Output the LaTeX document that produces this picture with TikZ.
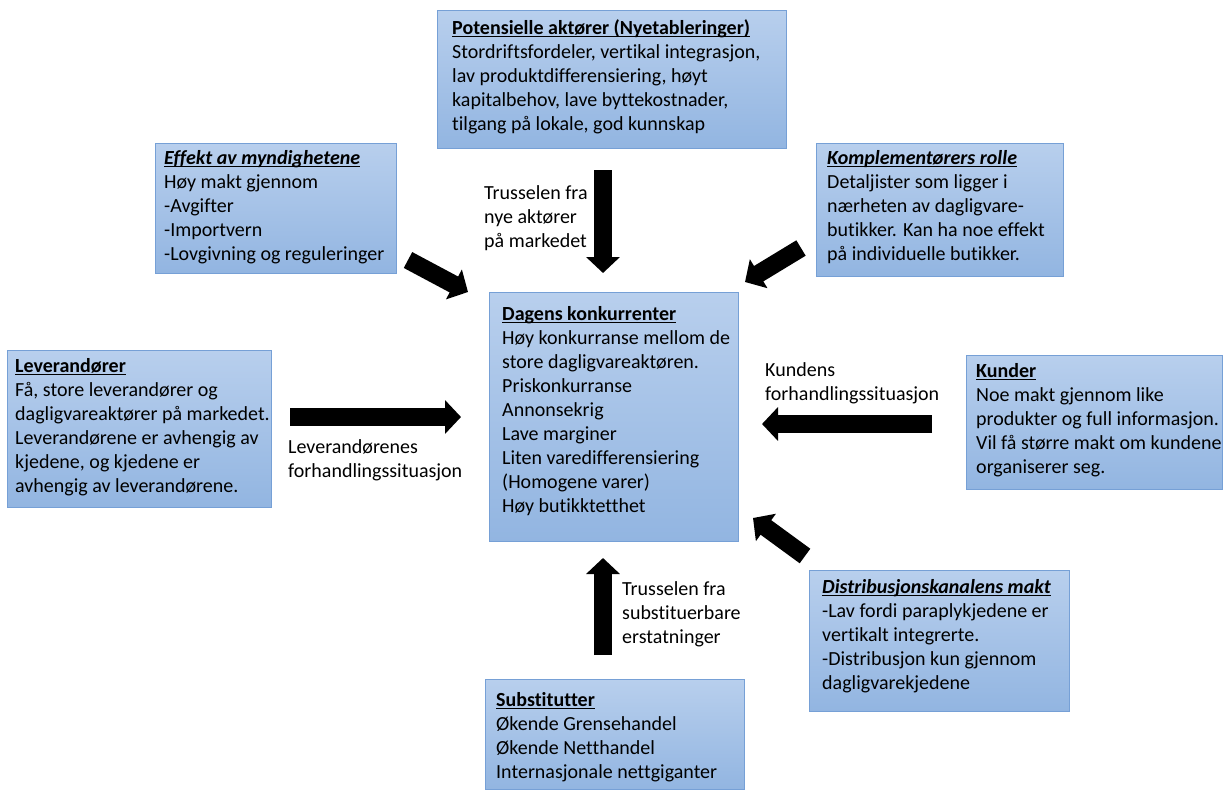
\documentclass[tikz,border=0pt]{standalone}
\usepackage{fontspec}
\setmainfont{Carlito}[RawFeature={-liga}]
\usetikzlibrary{arrows.meta}

\definecolor{boxtop}{RGB}{184,207,237}
\definecolor{boxbot}{RGB}{146,181,225}
\definecolor{boxline}{RGB}{118,160,214}

\tikzset{
  panel/.style={draw=boxline, line width=1pt, top color=boxtop, bottom color=boxbot,
    anchor=north west, inner sep=0pt, rectangle},
  txt/.style={anchor=north west, inner sep=0pt, align=left,
    font=\fontsize{20}{24}\selectfont},
  blockarrow/.style={draw=black, line width=18pt, line cap=butt,
    -{Triangle[width=33pt,length=16pt]}},
}
% underlined bold panel titles
\newsavebox{\ttlbox}
\newcommand{\ttl}[1]{\sbox{\ttlbox}{\bfseries #1}\usebox{\ttlbox}%
  \llap{\rule[-3pt]{\wd\ttlbox}{1.4pt}}}
\newcommand{\ttli}[1]{\ttl{\itshape #1}}

\begin{document}
\begin{tikzpicture}[x=1pt,y=-1pt]
\useasboundingbox[fill=white] (0,0) rectangle (1223,790);

% panels
\node[panel, minimum width=349pt, minimum height=138pt] (pot) at (437,10) {};
\node[panel, minimum width=241pt, minimum height=130pt] (myn) at (155,143) {};
\node[panel, minimum width=247pt, minimum height=133pt] (kom) at (816,143) {};
\node[panel, minimum width=249pt, minimum height=249pt] (dag) at (489,292) {};
\node[panel, minimum width=264pt, minimum height=157pt] (lev) at (7,350) {};
\node[panel, minimum width=256pt, minimum height=134pt] (kun) at (966,355) {};
\node[panel, minimum width=260pt, minimum height=141pt] (dis) at (809,570) {};
\node[panel, minimum width=259pt, minimum height=110pt] (sub) at (485,679) {};

% panel texts
\node[txt] (potT) at (452,19) {\ttl{Potensielle aktører (Nyetableringer)}\\
  Stordriftsfordeler, vertikal integrasjon,\\
  lav produktdifferensiering, høyt\\
  kapitalbehov, lave byttekostnader,\\
  tilgang på lokale, god kunnskap};
\node[txt] (mynT) at (164,150) {\ttli{Effekt av myndighetene}\\
  Høy makt gjennom\\ -Avgifter\\ -Importvern\\ -Lovgivning og reguleringer};
\node[txt] (komT) at (827,150) {\ttli{Komplementørers rolle}\\
  Detaljister som ligger i\\ nærheten av dagligvare-\\
  butikker. Kan ha noe effekt\\ på individuelle butikker.};
\node[txt] (dagT) at (502,306) {\ttl{Dagens konkurrenter}\\
  Høy konkurranse mellom de\\ store dagligvareaktøren.\\ Priskonkurranse\\
  Annonsekrig\\ Lave marginer\\ Liten varedifferensiering\\
  (Homogene varer)\\ Høy butikktetthet};
\node[txt] (levT) at (15,358) {\ttl{Leverandører}\\
  Få, store leverandører og\\ dagligvareaktører på markedet.\\
  Leverandørene er avhengig av\\ kjedene, og kjedene er\\
  avhengig av leverandørene.};
\node[txt] (kunT) at (976,363) {\ttl{Kunder}\\
  Noe makt gjennom like\\ produkter og full informasjon.\\
  Vil få større makt om kundene\\ organiserer seg.};
\node[txt] (disT) at (822,579) {\ttli{Distribusjonskanalens makt}\\
  -Lav fordi paraplykjedene er\\ vertikalt integrerte.\\
  -Distribusjon kun gjennom\\ dagligvarekjedene};
\node[txt] (subT) at (496,692) {\ttl{Substitutter}\\
  Økende Grensehandel\\ Økende Netthandel\\ Internasjonale nettgiganter};

% arrow labels
\node[txt] (nyL) at (484,185) {Trusselen fra\\ nye aktører\\ på markedet};
\node[txt] (levL) at (288,439) {Leverandørenes\\ forhandlingssituasjon};
\node[txt] (kunL) at (765,362) {Kundens\\ forhandlingssituasjon};
\node[txt] (subL) at (622,581) {Trusselen fra\\ substituerbare\\ erstatninger};

% arrow end points
\coordinate (nyA) at (603,170);   \coordinate (nyB) at (603,273);
\coordinate (subA) at (603,655);  \coordinate (subB) at (603,558);
\coordinate (levA) at (290,417);  \coordinate (levB) at (461,417);
\coordinate (kunA) at (932,424);  \coordinate (kunB) at (762,424);
\coordinate (mynA) at (408,260);  \coordinate (mynB) at (468,292);
\coordinate (komA) at (801,248);  \coordinate (komB) at (745,282);
\coordinate (disA) at (805,556);  \coordinate (disB) at (753,518);

% forces acting on the competitors
\foreach \f in {ny,sub,lev,kun,myn,kom,dis}
  \draw[blockarrow] (\f A) -- (\f B);
\end{tikzpicture}
\end{document}
